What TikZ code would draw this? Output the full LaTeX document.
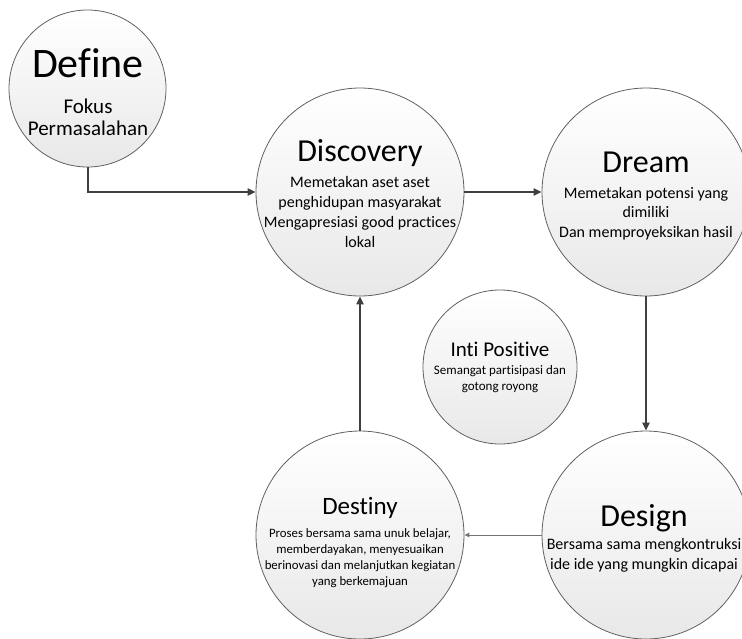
\documentclass[tikz,border=0pt]{standalone}
\usepackage{fontspec}
\setmainfont{Carlito}[Ligatures={NoCommon,NoRare,NoContextual}]
\usetikzlibrary{arrows.meta}
\begin{document}
\begin{tikzpicture}[x=1pt,y=-1pt,
  bubble/.style={circle,draw=black!62,line width=0.8pt,top color=white,bottom color=black!9,inner sep=0pt,minimum size=#1},
  txt/.style={align=center,inner sep=0pt,text=black},
  conn/.style={draw=black!75,line width=2pt,-{Triangle[length=8pt,width=7pt]}},
  thinconn/.style={draw=black!55,line width=1pt,-{Triangle[length=5pt,width=4.5pt]}}
]
\useasboundingbox (0,0) rectangle (742,638);
\clip (0,0) rectangle (742,638);

\node[bubble=157pt] (define) at (87.5,88.5) {};
\node[bubble=208pt] (discovery) at (360,192) {};
\node[bubble=208pt] (dream) at (646,192) {};
\node[bubble=154pt] (inti) at (500,367) {};
\node[bubble=208pt] (destiny) at (360,535) {};
\node[bubble=208pt] (design) at (646,535) {};

\node[txt,font=\fontsize{21}{22}\selectfont] (definet) at (88,92)
  {{\fontsize{42}{48}\selectfont Define}\\[14pt]Fokus\\Permasalahan};
\node[txt,font=\fontsize{16}{20}\selectfont] (discoveryt) at (360,194)
  {{\fontsize{32}{38}\selectfont Discovery}\\[6pt]Memetakan aset aset\\penghidupan masyarakat\\Mengapresiasi good practices\\lokal};
\node[txt,font=\fontsize{16}{19.5}\selectfont] (dreamt) at (646,196)
  {{\fontsize{32}{38}\selectfont Dream}\\[6.5pt]Memetakan potensi yang\\dimiliki\\Dan memproyeksikan hasil};
\node[txt,font=\fontsize{13}{16}\selectfont] (intit) at (500,367)
  {{\fontsize{21}{26}\selectfont Inti Positive}\\[2pt]Semangat partisipasi dan\\gotong royong};
\node[txt,font=\fontsize{12.8}{16}\selectfont] (destinyt) at (360,542)
  {{\fontsize{25}{30}\selectfont Destiny}\\[7pt]Proses bersama sama unuk belajar,\\memberdayakan, menyesuaikan\\berinovasi dan melanjutkan kegiatan\\yang berkemajuan};
\node[txt,font=\fontsize{16}{20}\selectfont] (designt) at (644,538)
  {{\fontsize{32}{38}\selectfont Design}\\[3pt]Bersama sama mengkontruksi\\ide ide yang mungkin dicapai};

\draw[conn] (define.south) |- (discovery.west);
\draw[conn] (discovery.east) -- (dream.west);
\draw[conn] (dream.south) -- (design.north);
\draw[thinconn] (design.west) -- (destiny.east);
\draw[conn] (destiny.north) -- (discovery.south);
\end{tikzpicture}
\end{document}
